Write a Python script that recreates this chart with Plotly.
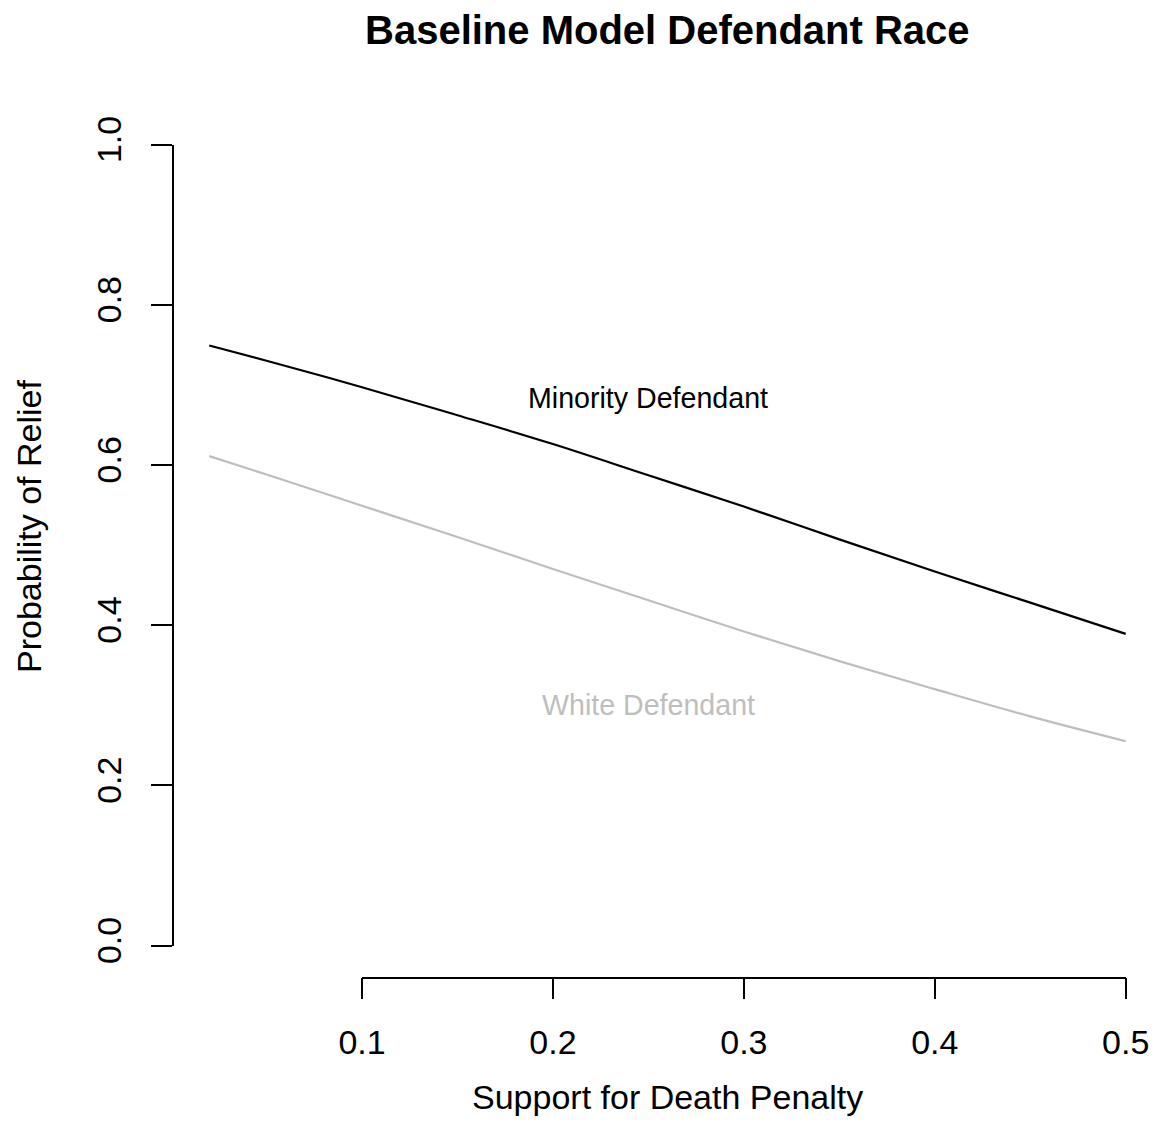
import plotly.graph_objects as go

# Predicted probability of relief across support for the death penalty
support = [0.02, 0.05, 0.10, 0.15, 0.20, 0.25, 0.30, 0.35, 0.40, 0.45, 0.50]
minority = [0.749, 0.730, 0.697, 0.662, 0.626, 0.587, 0.548, 0.507, 0.467, 0.428, 0.389]
white = [0.611, 0.588, 0.549, 0.510, 0.470, 0.431, 0.392, 0.355, 0.320, 0.286, 0.255]

x_ticks = [0.1, 0.2, 0.3, 0.4, 0.5]
x_tick_text = ["0.1", "0.2", "0.3", "0.4", "0.5"]
y_ticks = [0.0, 0.2, 0.4, 0.6, 0.8, 1.0]
y_tick_text = ["0.0", "0.2", "0.4", "0.6", "0.8", "1.0"]

W, H = 1155, 1145
FONT = "Liberation Sans, Arial, Helvetica, sans-serif"
GREY = "#bebebe"

# pixel anchors of the axes
x01_px, x05_px = 362.0, 1125.7
y0_px, y1_px = 945.5, 144.5
yaxis_px = 172.7
xaxis_py = 977.5

px_per_x = (x05_px - x01_px) / 0.4
x_lo = 0.1 - x01_px / px_per_x
x_hi = 0.5 + (W - x05_px) / px_per_x

fig = go.Figure()
# carrier trace so the visible x axis is drawn
fig.add_trace(go.Scatter(x=[0.1, 0.5], y=[0.5, 0.5], mode="lines", xaxis="x2", yaxis="y",
                         line=dict(color="rgba(0,0,0,0)", width=0),
                         hoverinfo="skip", showlegend=False))
fig.add_trace(go.Scatter(x=support, y=minority, mode="lines", xaxis="x", yaxis="y",
                         line=dict(color="black", width=2.2, shape="spline"),
                         hoverinfo="skip", showlegend=False, cliponaxis=False))
fig.add_trace(go.Scatter(x=support, y=white, mode="lines", xaxis="x", yaxis="y",
                         line=dict(color=GREY, width=2.2, shape="spline"),
                         hoverinfo="skip", showlegend=False, cliponaxis=False))

axis_common = dict(showgrid=False, zeroline=False, showline=True, linecolor="black",
                   linewidth=1.6, ticks="outside", ticklen=21, tickwidth=1.6,
                   tickcolor="black", automargin=False,
                   tickfont=dict(family=FONT, size=34, color="black"))

fig.update_layout(
    width=W, height=H,
    margin=dict(l=0, r=0, t=0, b=0, pad=0),
    paper_bgcolor="white", plot_bgcolor="rgba(0,0,0,0)",
    xaxis=dict(domain=[0, 1], range=[x_lo, x_hi], visible=False, fixedrange=True,
               automargin=False),
    xaxis2=dict(domain=[x01_px / W, x05_px / W], range=[0.1, 0.5], anchor="free",
                position=(H - xaxis_py) / H, tickvals=x_ticks, ticktext=x_tick_text,
                ticklabelstandoff=14, **axis_common),
    yaxis=dict(domain=[(H - y0_px) / H, (H - y1_px) / H], range=[0, 1], anchor="free",
               position=yaxis_px / W, tickvals=y_ticks, ticktext=y_tick_text,
               tickangle=-90, ticklabelstandoff=16, **axis_common),
    annotations=[
        dict(text="<b>Baseline Model Defendant Race</b>", xref="paper", yref="paper",
             x=667 / W, y=(H - 30) / H, xanchor="center", yanchor="middle",
             showarrow=False, font=dict(family=FONT, size=40, color="black")),
        dict(text="Support for Death Penalty", xref="paper", yref="paper",
             x=667 / W, y=(H - 1097) / H, xanchor="center", yanchor="middle",
             showarrow=False, font=dict(family=FONT, size=34, color="black")),
        dict(text="Probability of Relief", xref="paper", yref="paper",
             x=29 / W, y=(H - 527) / H, xanchor="center", yanchor="middle",
             textangle=-90, showarrow=False, font=dict(family=FONT, size=34, color="black")),
        dict(text="Minority Defendant", xref="x", yref="y", x=0.25, y=0.684,
             xanchor="center", yanchor="middle", showarrow=False,
             font=dict(family=FONT, size=28.6, color="black")),
        dict(text="White Defendant", xref="x", yref="y", x=0.25, y=0.30,
             xanchor="center", yanchor="middle", showarrow=False,
             font=dict(family=FONT, size=28.6, color=GREY)),
    ],
)

fig.write_html("out.html")
